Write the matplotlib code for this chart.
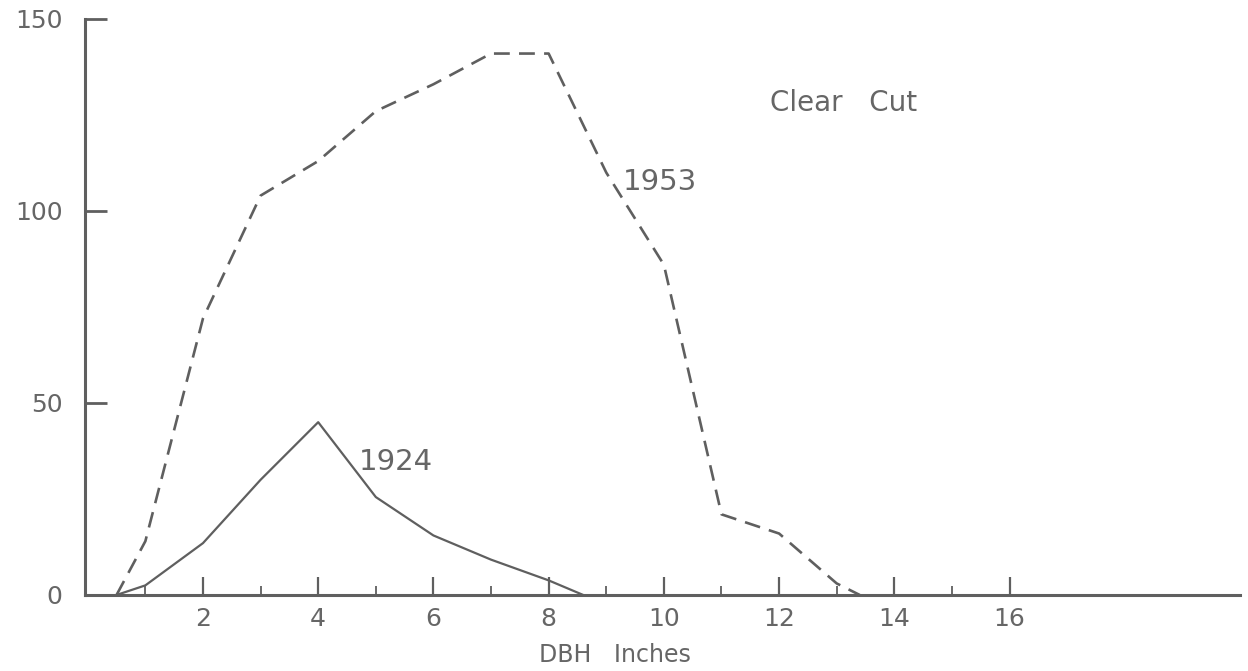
import numpy as np
import matplotlib
matplotlib.use('Agg')
import matplotlib.pyplot as plt

# DBH class (inches) vs number of trees
dbh_1953 = [0.5, 1, 2, 3, 4, 5, 6, 7, 8, 9, 10, 11, 12, 13, 13.4]
trees_1953 = [0, 14, 72, 104, 113, 126, 133, 141, 141, 110, 86, 21, 16, 3, 0]

dbh_1924 = [0.5, 1, 2, 3, 4, 5, 6, 7, 8, 8.6]
trees_1924 = [0, 2.5, 13.5, 30, 45, 25.5, 15.5, 9.2, 3.8, 0]

major_x = [2, 4, 6, 8, 10, 12, 14, 16]
minor_x = [1, 3, 5, 7, 9, 11, 13, 15]
y_ticks = [0, 50, 100, 150]

ink = '#5f5f5f'
txt = '#666666'

fig = plt.figure(figsize=(12.48, 6.71), dpi=100)
ax = fig.add_axes([0.068, 0.1133, 0.9256, 0.8584])

ax.plot(dbh_1953, trees_1953, color=ink, linewidth=1.9, linestyle='--', dashes=(6, 3.5))
ax.plot(dbh_1924, trees_1924, color=ink, linewidth=1.6)

ax.set_xlim(-0.05, 20)
ax.set_ylim(0, 150)

for s in ['top', 'right']:
    ax.spines[s].set_visible(False)
for s in ['left', 'bottom']:
    ax.spines[s].set_color(ink)
    ax.spines[s].set_linewidth(2.2)

ax.set_xticks(major_x)
ax.set_xticklabels([str(v) for v in major_x])
ax.set_xticks(minor_x, minor=True)
ax.set_yticks(y_ticks)
ax.set_yticklabels([str(v) for v in y_ticks])

ax.tick_params(axis='x', which='major', direction='in', length=13, width=1.6,
               color=ink, pad=9, labelsize=18, labelcolor=txt)
ax.tick_params(axis='x', which='minor', direction='in', length=6.5, width=1.3, color=ink)
ax.tick_params(axis='y', which='major', direction='in', length=16, width=2,
               color=ink, pad=16, labelsize=18, labelcolor=txt)

ax.set_xlabel('DBH   Inches', fontsize=17, color=txt)
ax.xaxis.set_label_coords(0.459, -0.104)
ax.xaxis.label.set_va('center')

ax.text(11.85, 128, 'Clear   Cut', fontsize=20, color=txt, va='center', ha='left')
ax.text(9.29, 107.5, '1953', fontsize=21, color=txt, va='center', ha='left')
ax.text(4.7, 34.6, '1924', fontsize=21, color=txt, va='center', ha='left')

fig.savefig('out.png', dpi=100)
